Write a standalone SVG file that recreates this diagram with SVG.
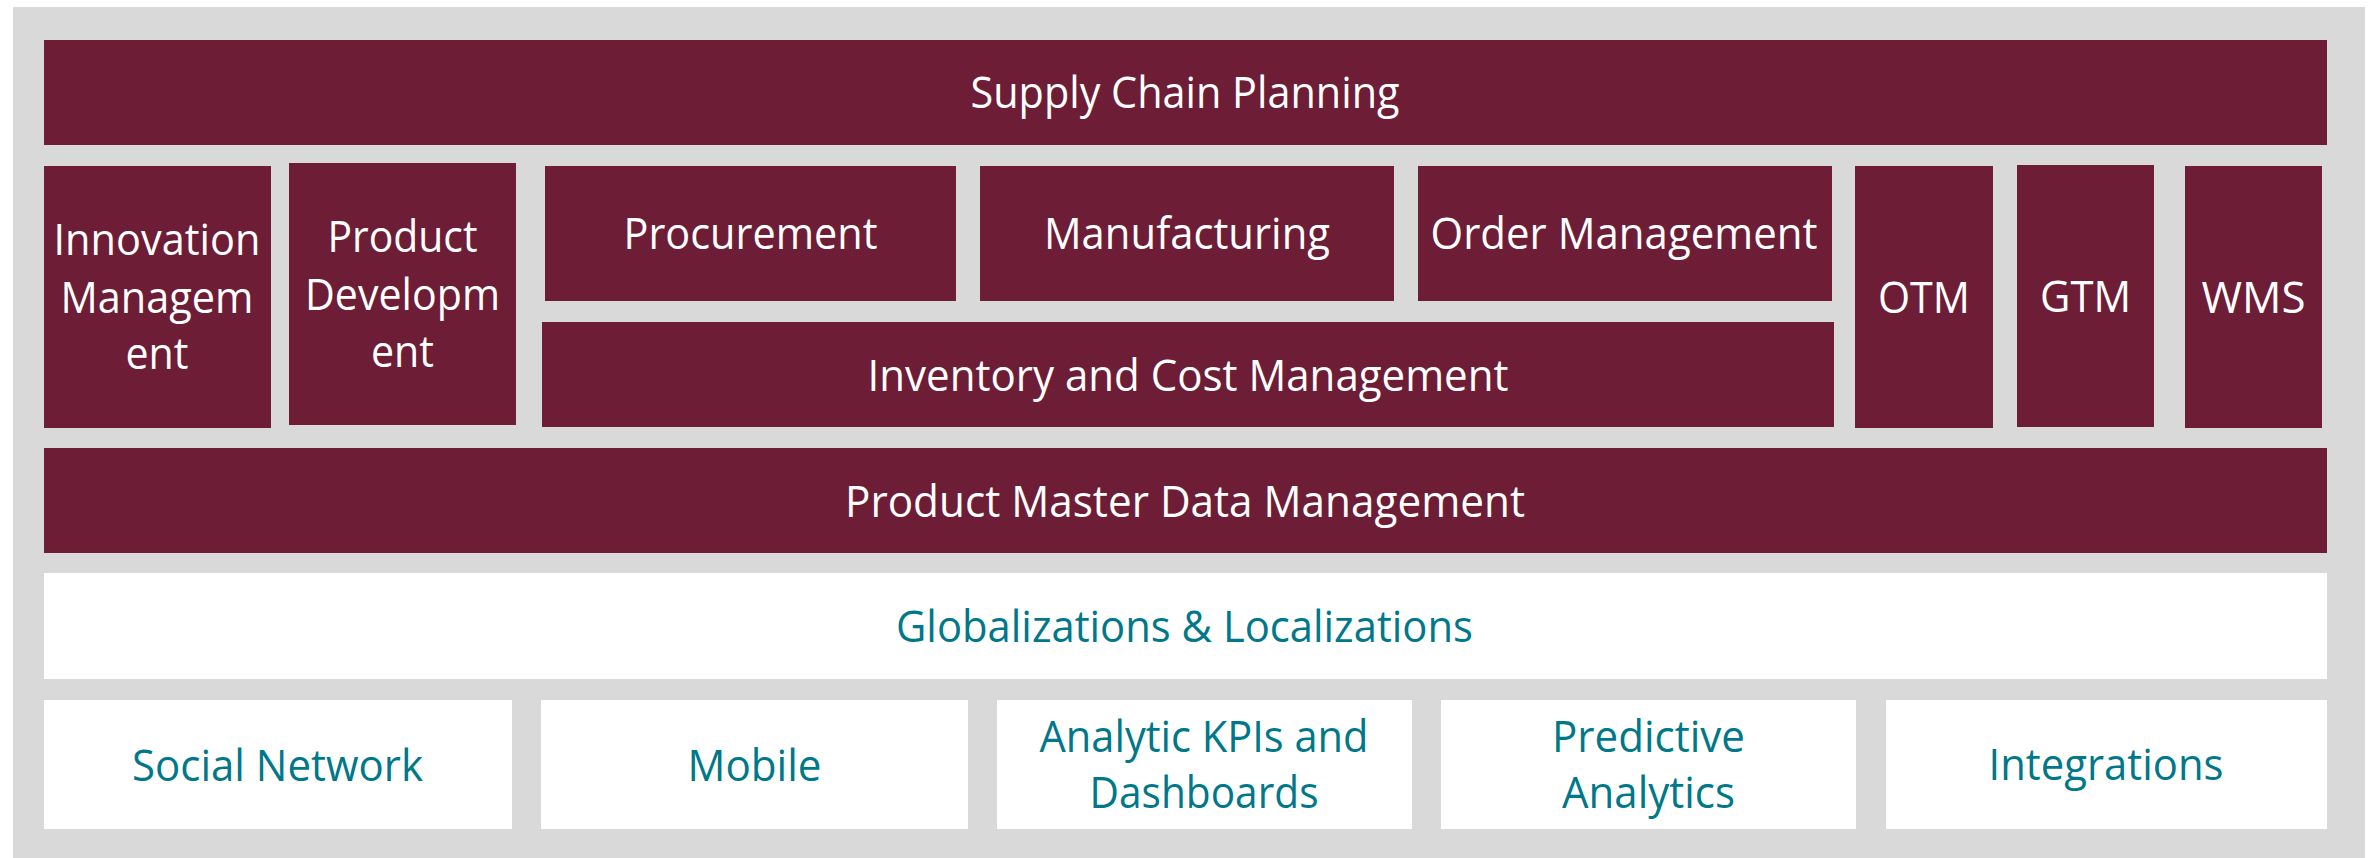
<svg xmlns="http://www.w3.org/2000/svg" width="2374" height="858" viewBox="0 0 2374 858">
<style>
  .m { fill: #6D1D35; }
  .b { fill: #FFFFFF; }
  text { font-family: "Open Sans", "Noto Sans", "Liberation Sans", sans-serif; font-size: 44px; text-anchor: middle; }
  .w { fill: #FFFFFF; }
  .t { fill: #00788A; }
</style>
<rect x="13" y="7" width="2352" height="851" fill="#D9D9D9"/>
<g id="supply-chain-planning">
  <rect class="m" x="44" y="40" width="2283" height="105"/>
  <text class="w" x="1185" y="108" textLength="429" lengthAdjust="spacingAndGlyphs">Supply Chain Planning</text>
</g>
<g id="innovation-management">
  <rect class="m" x="44" y="166" width="227" height="262"/>
  <text class="w" x="157" y="255" textLength="207" lengthAdjust="spacingAndGlyphs">Innovation</text>
  <text class="w" x="157" y="313" textLength="193" lengthAdjust="spacingAndGlyphs">Managem</text>
  <text class="w" x="157" y="369" textLength="63" lengthAdjust="spacingAndGlyphs">ent</text>
</g>
<g id="product-development">
  <rect class="m" x="289" y="163" width="227" height="262"/>
  <text class="w" x="402.5" y="252" textLength="150" lengthAdjust="spacingAndGlyphs">Product</text>
  <text class="w" x="402.5" y="310" textLength="195" lengthAdjust="spacingAndGlyphs">Developm</text>
  <text class="w" x="402.5" y="367" textLength="63" lengthAdjust="spacingAndGlyphs">ent</text>
</g>
<g id="procurement">
  <rect class="m" x="545" y="166" width="411" height="135"/>
  <text class="w" x="750.5" y="249" textLength="254" lengthAdjust="spacingAndGlyphs">Procurement</text>
</g>
<g id="manufacturing">
  <rect class="m" x="980" y="166" width="414" height="135"/>
  <text class="w" x="1187" y="249" textLength="286" lengthAdjust="spacingAndGlyphs">Manufacturing</text>
</g>
<g id="order-management">
  <rect class="m" x="1418" y="166" width="414" height="135"/>
  <text class="w" x="1624" y="249" textLength="387" lengthAdjust="spacingAndGlyphs">Order Management</text>
</g>
<g id="inventory-cost-management">
  <rect class="m" x="542" y="322" width="1292" height="105"/>
  <text class="w" x="1188" y="391" textLength="641" lengthAdjust="spacingAndGlyphs">Inventory and Cost Management</text>
</g>
<g id="otm">
  <rect class="m" x="1855" y="166" width="138" height="262"/>
  <text class="w" x="1924" y="313" textLength="92" lengthAdjust="spacingAndGlyphs">OTM</text>
</g>
<g id="gtm">
  <rect class="m" x="2017" y="165" width="137" height="262"/>
  <text class="w" x="2085.5" y="312" textLength="91" lengthAdjust="spacingAndGlyphs">GTM</text>
</g>
<g id="wms">
  <rect class="m" x="2185" y="166" width="137" height="262"/>
  <text class="w" x="2253.5" y="313" textLength="104" lengthAdjust="spacingAndGlyphs">WMS</text>
</g>
<g id="product-master-data-management">
  <rect class="m" x="44" y="448" width="2283" height="105"/>
  <text class="w" x="1185" y="517" textLength="680" lengthAdjust="spacingAndGlyphs">Product Master Data Management</text>
</g>
<g id="globalizations-localizations">
  <rect class="b" x="44" y="573" width="2283" height="106"/>
  <text class="t" x="1184.5" y="642" textLength="577" lengthAdjust="spacingAndGlyphs">Globalizations &amp; Localizations</text>
</g>
<g id="social-network">
  <rect class="b" x="44" y="700" width="468" height="129"/>
  <text class="t" x="277.5" y="781" textLength="291" lengthAdjust="spacingAndGlyphs">Social Network</text>
</g>
<g id="mobile">
  <rect class="b" x="541" y="700" width="427" height="129"/>
  <text class="t" x="754.5" y="781" textLength="134" lengthAdjust="spacingAndGlyphs">Mobile</text>
</g>
<g id="analytic-kpis-dashboards">
  <rect class="b" x="997" y="700" width="415" height="129"/>
  <text class="t" x="1204" y="752" textLength="329" lengthAdjust="spacingAndGlyphs">Analytic KPIs and</text>
  <text class="t" x="1204" y="808" textLength="229" lengthAdjust="spacingAndGlyphs">Dashboards</text>
</g>
<g id="predictive-analytics">
  <rect class="b" x="1441" y="700" width="415" height="129"/>
  <text class="t" x="1648.5" y="752" textLength="193" lengthAdjust="spacingAndGlyphs">Predictive</text>
  <text class="t" x="1648.5" y="808" textLength="173" lengthAdjust="spacingAndGlyphs">Analytics</text>
</g>
<g id="integrations">
  <rect class="b" x="1886" y="700" width="441" height="129"/>
  <text class="t" x="2106" y="780" textLength="235" lengthAdjust="spacingAndGlyphs">Integrations</text>
</g>
<g id="connectors"></g>
</svg>
